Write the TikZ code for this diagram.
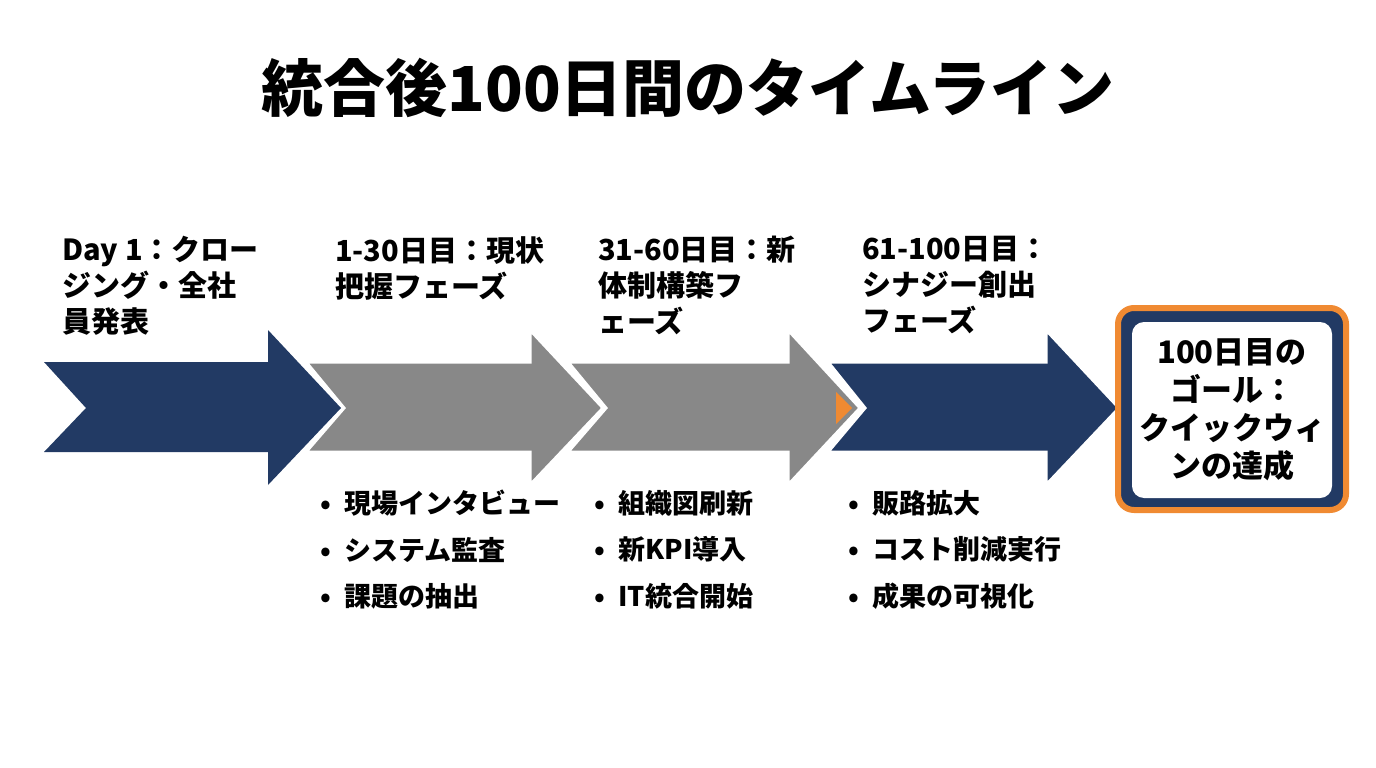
\documentclass[tikz,border=0pt]{standalone}
\usepackage{fontspec}
\setmainfont{Noto Sans CJK JP}
\definecolor{navy}{HTML}{223A64}
\definecolor{grayA}{HTML}{888888}
\definecolor{orng}{HTML}{F08A32}
\begin{document}
\begin{tikzpicture}[x=1pt,y=-1pt,
  arr/.style={draw=white,line width=3pt,line join=miter},
  lab/.style={anchor=north west,align=left,font=\fontsize{29}{36}\selectfont\bfseries,inner sep=0},
  bul/.style={anchor=north west,align=left,font=\fontsize{27}{46.5}\selectfont\bfseries,inner sep=0}]
\useasboundingbox (0,0) rectangle (1376,768);
\node[font=\fontsize{62}{70}\selectfont\bfseries] (title) at (688,88) {統合後100日間のタイムライン};
% arrows
\fill[navy] (44,362) -- (268,362) -- (268,330) -- (341,408) -- (268,485) -- (268,452) -- (44,452) -- (86,408) -- cycle;
\filldraw[navy,arr] (828,362) -- (1046,362) -- (1046,330) -- (1119,408) -- (1046,485) -- (1046,452) -- (828,452) -- (865,408) -- cycle;
\filldraw[fill=grayA,arr] (568,362) -- (788,362) -- (788,330) -- (860,408) -- (788,485) -- (788,452) -- (568,452) -- (606,408) -- cycle;
\filldraw[fill=grayA,arr] (306,362) -- (530,362) -- (530,330) -- (603,408) -- (530,485) -- (530,452) -- (306,452) -- (344,408) -- cycle;
\fill[orng] (836,392) -- (852,408) -- (836,424) -- cycle;
% goal
\node[draw=orng,line width=6pt,rounded corners=16pt,minimum width=228pt,minimum height=202pt,fill=navy] (goalo) at (1232,409) {};
\node[fill=white,rounded corners=12pt,minimum width=200pt,minimum height=176pt,align=center,
  font=\fontsize{31}{38}\selectfont\bfseries] (goal) at (1232,410) {100日目の\\ゴール：\\クイックウィ\\ンの達成};
% labels
\node[lab] (l1) at (62,236) {Day 1：クロー\\ジング・全社\\員発表};
\node[lab] (l2) at (335,236) {1-30日目：現状\\把握フェーズ};
\node[lab] (l3) at (598,236) {31-60日目：新\\体制構築フ\\ェーズ};
\node[lab] (l4) at (862,236) {61-100日目：\\シナジー創出\\フェーズ};
% bullets
\node[bul] (b2) at (320,490) {•\enspace 現場インタビュー\\•\enspace システム監査\\•\enspace 課題の抽出};
\node[bul] (b3) at (594,490) {•\enspace 組織図刷新\\•\enspace 新KPI導入\\•\enspace IT統合開始};
\node[bul] (b4) at (848,490) {•\enspace 販路拡大\\•\enspace コスト削減実行\\•\enspace 成果の可視化};
\end{tikzpicture}
\end{document}
